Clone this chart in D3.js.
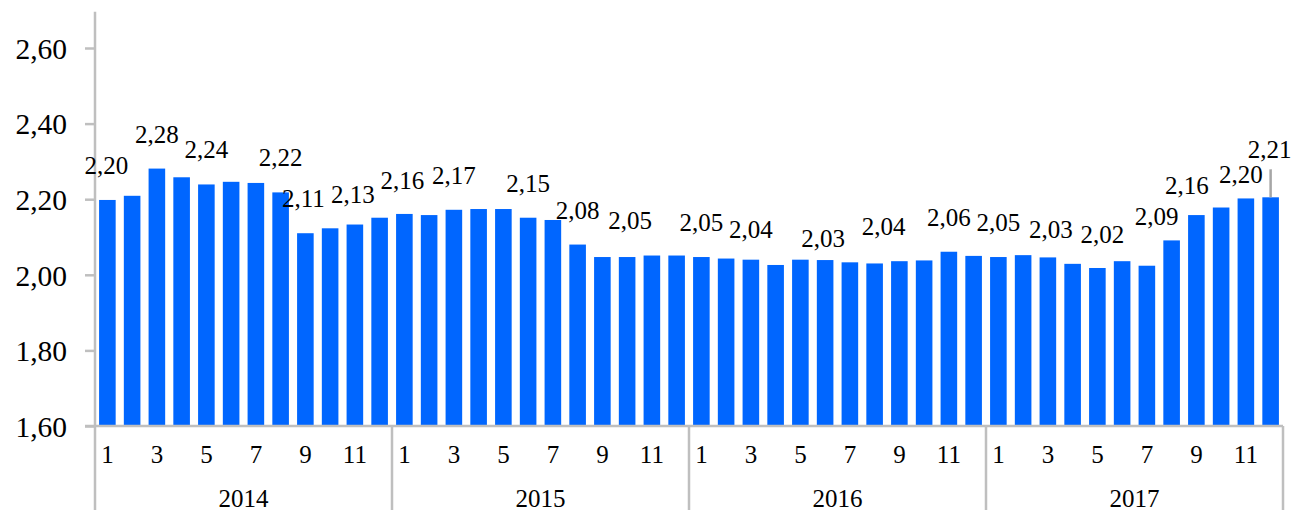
<!DOCTYPE html>
<html>
<head>
<meta charset="utf-8">
<script src="https://cdn.jsdelivr.net/npm/d3@7/dist/d3.min.js"></script>
<style>
  html, body { margin: 0; padding: 0; background: #fff; }
  svg { display: block; }
  text { font-family: "Liberation Serif", "Times New Roman", serif; fill: #000; }
</style>
</head>
<body>
<svg id="chart" width="1293" height="510"></svg>
<script>
// ---- data ----
const years = ["2014", "2015", "2016", "2017"];
const monthTicks = ["1", "", "3", "", "5", "", "7", "", "9", "", "11", ""];
const values2014 = [2.198, 2.209, 2.281, 2.258, 2.239, 2.246, 2.243, 2.218, 2.110, 2.123, 2.133, 2.151];
const values2015 = [2.161, 2.158, 2.172, 2.174, 2.174, 2.151, 2.145, 2.080, 2.047, 2.047, 2.051, 2.051];
const values2016 = [2.047, 2.043, 2.040, 2.026, 2.040, 2.039, 2.033, 2.030, 2.036, 2.038, 2.061, 2.050];
const values2017 = [2.047, 2.052, 2.046, 2.029, 2.018, 2.036, 2.024, 2.091, 2.158, 2.178, 2.202, 2.205];
const yTicks = [1.6, 1.8, 2.0, 2.2, 2.4, 2.6];
const labelIndex = [0, 2, 4, 7, 8, 10, 12, 14, 17, 19, 21, 24, 26, 29, 31, 34, 36, 38, 40, 43, 44, 46, 47];
const labelText = ["2,20", "2,28", "2,24", "2,22", "2,11", "2,13", "2,16", "2,17", "2,15", "2,08", "2,05",
                   "2,05", "2,04", "2,03", "2,04", "2,06", "2,05", "2,03", "2,02", "2,09", "2,16", "2,20", "2,21"];

// ---- layout (not data) ----
const labelNudge = {0: [-1, 0], 8: [-2, 0], 10: [-2, 4.6], 12: [-2, 1.3], 21: [3, -2], 26: [0, 4.6],
                    29: [-2, 12.7], 31: [9, -2.7], 38: [3, 6.6], 40: [5, 1], 43: [-15, 10.3],
                    44: [-9.5, 5], 46: [-5, 10.6], 47: [-1, -13]};
const leaderIndex = 47;

const allValues = [values2014, values2015, values2016, values2017];
const rows = [];
allValues.forEach((arr, yi) => arr.forEach((v, mi) => rows.push({i: yi * 12 + mi, year: years[yi], month: mi, v})));

const svg = d3.select("#chart");
const plotLeft = 95, plotRight = 1283, plotBottom = 426, plotTop = 10.2;
const axisColor = "#bfbfbf";

const x = d3.scaleBand().domain(d3.range(rows.length)).range([plotLeft, plotRight])
  .paddingInner(0.33).paddingOuter(0.165);
const y = d3.scaleLinear().domain([1.6, 2.7]).range([plotBottom, plotTop]);
const fmt = v => d3.format(".2f")(v).replace(".", ",");

// bars
svg.append("g").selectAll("rect").data(rows).join("rect")
  .attr("x", d => x(d.i))
  .attr("y", d => y(d.v))
  .attr("width", x.bandwidth())
  .attr("height", d => y(1.6) - y(d.v))
  .attr("fill", "#0066ff");

// y axis
const yAxis = svg.append("g").attr("transform", `translate(${plotLeft},0)`)
  .call(d3.axisLeft(y).tickValues(yTicks).tickFormat(fmt).tickSize(10).tickPadding(18));
yAxis.select(".domain").remove();
yAxis.selectAll(".tick line").attr("stroke", axisColor).attr("stroke-width", 2.5);
yAxis.selectAll(".tick text").style("font-size", "29.5px").style("font-family", "Liberation Serif").attr("fill", "#000").attr("dy", "0.35em");
svg.append("line").attr("x1", plotLeft).attr("x2", plotLeft).attr("y1", 11.7).attr("y2", 510)
  .attr("stroke", axisColor).attr("stroke-width", 2.5);

// x axis line
svg.append("line").attr("x1", plotLeft - 10).attr("x2", plotRight).attr("y1", plotBottom).attr("y2", plotBottom)
  .attr("stroke", axisColor).attr("stroke-width", 2.5);

// year separators
const step = x.step();
years.forEach((yr, k) => {
  const x1 = plotLeft + (k + 1) * 12 * step;
  svg.append("line").attr("x1", x1).attr("x2", x1).attr("y1", plotBottom).attr("y2", 510)
    .attr("stroke", axisColor).attr("stroke-width", 2.5);
});

// month labels
svg.append("g").selectAll("text").data(rows.filter(d => monthTicks[d.month] !== "")).join("text")
  .attr("x", d => x(d.i) + x.bandwidth() / 2)
  .attr("y", 463)
  .attr("text-anchor", "middle")
  .style("font-size", "25px")
  .text(d => monthTicks[d.month]);

// year labels
svg.append("g").selectAll("text").data(years).join("text")
  .attr("x", (d, k) => plotLeft + (k + 0.5) * 12 * step)
  .attr("y", 506.5)
  .attr("text-anchor", "middle")
  .style("font-size", "25px")
  .text(d => d);

// leader line
const ld = rows[leaderIndex];
svg.append("line")
  .attr("x1", x(ld.i) + x.bandwidth() / 2).attr("x2", x(ld.i) + x.bandwidth() / 2)
  .attr("y1", y(ld.v)).attr("y2", y(ld.v) - 28)
  .attr("stroke", "#a6a6a6").attr("stroke-width", 2.5);

// data labels
svg.append("g").selectAll("text").data(labelIndex).join("text")
  .attr("x", (d) => x(d) + x.bandwidth() / 2 + (labelNudge[d] ? labelNudge[d][0] : 0))
  .attr("y", (d) => y(rows[d].v) - 26 + (labelNudge[d] ? labelNudge[d][1] : 0))
  .attr("text-anchor", "middle")
  .style("font-size", "25px")
  .text((d, k) => labelText[k]);
</script>
</body>
</html>
